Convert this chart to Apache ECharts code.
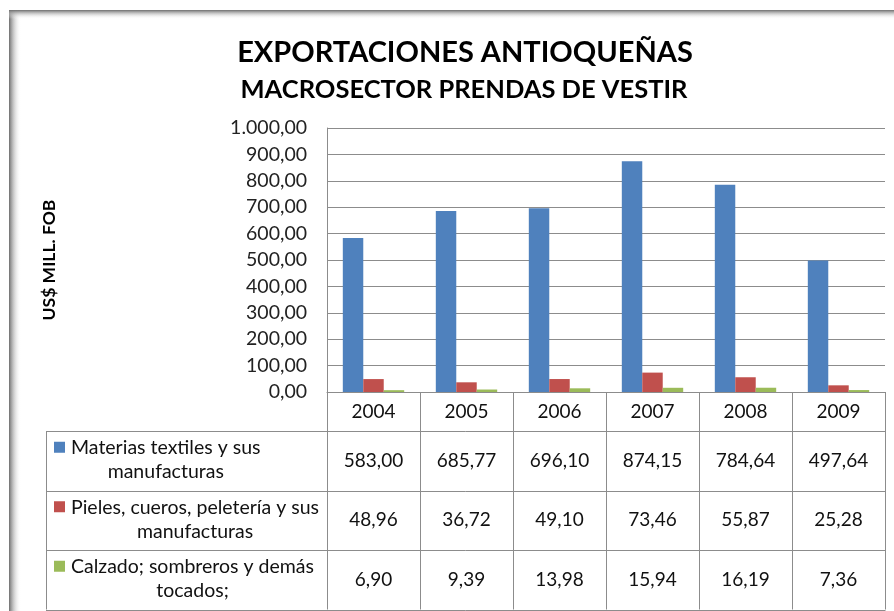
<!DOCTYPE html>
<html>
<head>
<meta charset="utf-8">
<script src="https://cdn.jsdelivr.net/npm/echarts@6/dist/echarts.min.js"></script>
<style>
  html, body { margin: 0; padding: 0; background: #fff; }
  #chart { width: 894px; height: 611px; }
</style>
</head>
<body>
<div id="chart"></div>
<script>
  // data
  var years = ['2004', '2005', '2006', '2007', '2008', '2009'];
  var textiles = [583.00, 685.77, 696.10, 874.15, 784.64, 497.64];
  var pieles = [48.96, 36.72, 49.10, 73.46, 55.87, 25.28];
  var calzado = [6.90, 9.39, 13.98, 15.94, 16.19, 7.36];
  var seriesNames = ['Materias textiles y sus manufacturas', 'Pieles, cueros, peletería y sus manufacturas', 'Calzado; sombreros y demás tocados;'];
  var seriesLines = [
    ['Materias textiles y sus', 'manufacturas'],
    ['Pieles, cueros, peletería y sus', 'manufacturas'],
    ['Calzado; sombreros y demás', 'tocados;']
  ];
  var colors = ['#4F81BD', '#C0504D', '#9BBB59'];
  var yMin = 0, yMax = 1000, yStep = 100;

  var FONT = 'Lato, "Open Sans", sans-serif';
  var LINE = '#8c8c8c';
  var LEG_FONT = '19.5px ' + FONT;

  function fmt(v) {
    var parts = v.toFixed(2).split('.');
    var ip = parts[0].replace(/\B(?=(\d{3})+(?!\d))/g, '.');
    return ip + ',' + parts[1];
  }

  var chart = echarts.init(document.getElementById('chart'));

  var gridLeft = 327, gridRight = 885, gridTop = 128, gridBottom = 392;

  chart.setOption({
    animation: false,
    backgroundColor: '#fff',
    title: [
      {
        text: 'EXPORTACIONES ANTIOQUEÑAS',
        left: 460, top: 33, textAlign: 'center',
        textStyle: { fontFamily: FONT, fontWeight: 'bold', fontSize: 29, color: '#000' }
      },
      {
        text: 'MACROSECTOR PRENDAS DE VESTIR',
        left: 459, top: 72, textAlign: 'center',
        textStyle: { fontFamily: FONT, fontWeight: 'bold', fontSize: 25.5, color: '#000' }
      }
    ],
    grid: { left: gridLeft, right: 894 - gridRight, top: gridTop, bottom: 611 - gridBottom },
    xAxis: {
      type: 'category',
      data: years,
      axisLine: { lineStyle: { color: LINE } },
      axisTick: { show: false },
      axisLabel: { fontFamily: FONT, fontSize: 19, color: '#111', margin: 10 },
      splitLine: { show: false }
    },
    yAxis: {
      type: 'value',
      min: yMin, max: yMax, interval: yStep,
      name: 'US$ MILL. FOB',
      nameLocation: 'middle',
      nameGap: 269,
      nameRotate: 90,
      nameTextStyle: { fontFamily: FONT, fontWeight: 'bold', fontSize: 17.5, color: '#000' },
      axisLine: { show: true, lineStyle: { color: LINE } },
      axisTick: { show: false },
      axisLabel: { fontFamily: FONT, fontSize: 19.5, color: '#222', margin: 20, formatter: function (v) { return fmt(v); } },
      splitLine: { lineStyle: { color: LINE } }
    },
    series: [
      { name: seriesNames[0], type: 'bar', data: textiles, itemStyle: { color: colors[0] }, barGap: '0%', barCategoryGap: '34%' },
      { name: seriesNames[1], type: 'bar', data: pieles, itemStyle: { color: colors[1] } },
      { name: seriesNames[2], type: 'bar', data: calzado, itemStyle: { color: colors[2] } }
    ]
  });

  // data table below the plot, laid out from the category axis
  var centers = years.map(function (y, i) { return chart.convertToPixel({ xAxisIndex: 0 }, i); });
  var band = centers.length > 1 ? centers[1] - centers[0] : (gridRight - gridLeft);
  var tableLeft = 46, rowTop = 431, rowH = 59.5;
  var allSeries = [textiles, pieles, calzado];
  var g = [];

  // frame inner shadow
  g.push({ type: 'rect', silent: true, z: 100, shape: { x: 9, y: 10, width: 12, height: 611 },
    style: { fill: new echarts.graphic.LinearGradient(0, 0, 1, 0, [{ offset: 0, color: 'rgba(110,110,110,1)' }, { offset: 0.35, color: 'rgba(170,170,170,0.7)' }, { offset: 1, color: 'rgba(255,255,255,0)' }]) } });
  g.push({ type: 'rect', silent: true, z: 100, shape: { x: 9, y: 10, width: 894, height: 9 },
    style: { fill: new echarts.graphic.LinearGradient(0, 0, 0, 1, [{ offset: 0, color: 'rgba(110,110,110,1)' }, { offset: 0.35, color: 'rgba(170,170,170,0.7)' }, { offset: 1, color: 'rgba(255,255,255,0)' }]) } });

  // vertical lines through year row and table
  for (var i = 0; i <= years.length; i++) {
    var x = Math.round(centers[0] - band / 2 + i * band) + 0.5;
    g.push({ type: 'line', silent: true, shape: { x1: x, y1: gridBottom, x2: x, y2: rowTop + 3 * rowH }, style: { stroke: LINE, lineWidth: 1 } });
  }
  g.push({ type: 'line', silent: true, shape: { x1: tableLeft + 0.5, y1: rowTop, x2: tableLeft + 0.5, y2: rowTop + 3 * rowH }, style: { stroke: LINE, lineWidth: 1 } });
  for (var r = 0; r <= 3; r++) {
    var y = Math.round(rowTop + r * rowH) + 0.5;
    g.push({ type: 'line', silent: true, shape: { x1: tableLeft, y1: y, x2: gridRight + 0.5, y2: y }, style: { stroke: LINE, lineWidth: 1 } });
  }

  var ctx = document.createElement('canvas').getContext('2d');
  ctx.font = LEG_FONT;

  for (var s = 0; s < allSeries.length; s++) {
    var cy = rowTop + s * rowH + rowH / 2;
    var first = seriesLines[s][0];
    var wFirst = ctx.measureText(first).width;
    // legend key
    g.push({ type: 'rect', silent: true, shape: { x: 54, y: cy - 19, width: 11, height: 11 }, style: { fill: colors[s] } });
    g.push({ type: 'text', silent: true, style: { x: 71, y: cy - 13, text: first, font: LEG_FONT, fill: '#111', textVerticalAlign: 'middle', textAlign: 'left' } });
    // second line centered under the first one
    g.push({ type: 'text', silent: true, style: { x: 71 + wFirst / 2, y: cy + 11, text: seriesLines[s][1], font: LEG_FONT, fill: '#111', textVerticalAlign: 'middle', textAlign: 'center' } });
    for (var k = 0; k < years.length; k++) {
      g.push({ type: 'text', silent: true, style: { x: centers[k], y: cy, text: fmt(allSeries[s][k]), font: '19px ' + FONT, fill: '#111', textVerticalAlign: 'middle', textAlign: 'center' } });
    }
  }

  chart.setOption({ graphic: g });
</script>
</body>
</html>
